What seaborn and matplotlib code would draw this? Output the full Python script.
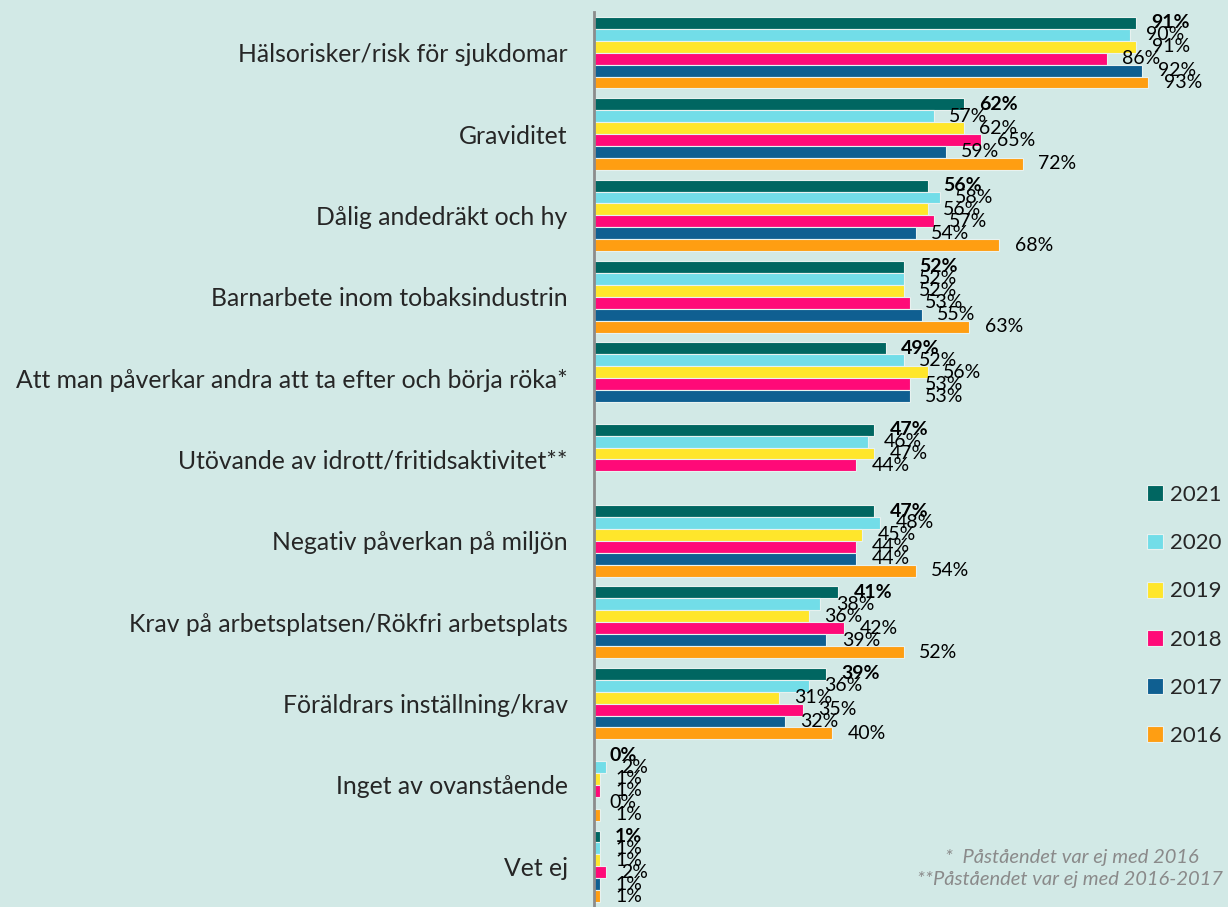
import numpy as np
import pandas as pd
import matplotlib
matplotlib.use("Agg")
import matplotlib.pyplot as plt
import seaborn as sns

# Data (percent)
categories = [
    "Hälsorisker/risk för sjukdomar",
    "Graviditet",
    "Dålig andedräkt och hy",
    "Barnarbete inom tobaksindustrin",
    "Att man påverkar andra att ta efter och börja röka*",
    "Utövande av idrott/fritidsaktivitet**",
    "Negativ påverkan på miljön",
    "Krav på arbetsplatsen/Rökfri arbetsplats",
    "Föräldrars inställning/krav",
    "Inget av ovanstående",
    "Vet ej",
]
years = ["2021", "2020", "2019", "2018", "2017", "2016"]
v2021 = [91, 62, 56, 52, 49, 47, 47, 41, 39, 0, 1]
v2020 = [90, 57, 58, 52, 52, 46, 48, 38, 36, 2, 1]
v2019 = [91, 62, 56, 52, 56, 47, 45, 36, 31, 1, 1]
v2018 = [86, 65, 57, 53, 53, 44, 44, 42, 35, 1, 2]
v2017 = [92, 59, 54, 55, 53, np.nan, 44, 39, 32, 0, 1]
v2016 = [93, 72, 68, 63, np.nan, np.nan, 54, 52, 40, 1, 1]
colors = ["#006661", "#72DDE8", "#FFE62B", "#FF0A78", "#0F5F91", "#FF9E12"]
footnotes = ["*  Påståendet var ej med 2016", "**Påståendet var ej med 2016-2017"]

series = [v2021, v2020, v2019, v2018, v2017, v2016]
rows = []
for yr, vals in zip(years, series):
    for cat, v in zip(categories, vals):
        rows.append({"kategori": cat, "år": yr, "andel": v})
df = pd.DataFrame(rows).dropna()

bg = "#D2E9E6"
sns.set_style("white")
plt.rcParams["font.family"] = ["Lato", "DejaVu Sans"]

W, H = 1228, 907
fig = plt.figure(figsize=(W / 100, H / 100), dpi=100, facecolor=bg)
x0 = 594
ax = fig.add_axes([x0 / W, 0, (W - x0) / W, (H - 12) / H])
ax.set_facecolor(bg)

sns.barplot(data=df, y="kategori", x="andel", hue="år", order=categories,
            hue_order=years, palette=colors, saturation=1, orient="h", width=0.88,
            errorbar=None, edgecolor="#E8F2F0", linewidth=0.8, ax=ax)

for i, cont in enumerate(ax.containers):
    ax.bar_label(cont, fmt="{:.0f}%", padding=11, fontsize=14,
                 fontweight="bold" if i == 0 else "normal", color="black")

ax.set_xlim(0, (W - x0) / 5.96)
ax.set_ylim(10.5 - 7 / 82, -0.5)
ax.set_xlabel("")
ax.set_ylabel("")
ax.xaxis.set_visible(False)
for s in ["top", "right", "bottom"]:
    ax.spines[s].set_visible(False)
ax.spines["left"].set_color("#8C8C8C")
ax.spines["left"].set_linewidth(2)

ax.set_yticks(range(len(categories)))
ax.set_yticklabels(categories, fontsize=17.8)
ax.tick_params(axis="y", which="major", length=0, pad=19)
ax.set_yticks(np.arange(-0.5, len(categories), 1), minor=True)
ax.tick_params(axis="y", which="minor", length=8, width=2, color="#8C8C8C")

leg = ax.legend(loc="upper left", bbox_to_anchor=(1147 / W, 1 - 485 / H),
                bbox_transform=fig.transFigure, frameon=False, fontsize=16,
                handlelength=0.72, handleheight=0.72, handletextpad=0.33,
                labelspacing=1.27, borderaxespad=0, borderpad=0)

fig.text(945 / W, 1 - 857 / H, footnotes[0], fontsize=14.5, style="italic",
         color="#8A8A8A", va="center")
fig.text(917 / W, 1 - 880 / H, footnotes[1], fontsize=14.5, style="italic",
         color="#8A8A8A", va="center")

fig.savefig("out.png", dpi=100, facecolor=bg)
